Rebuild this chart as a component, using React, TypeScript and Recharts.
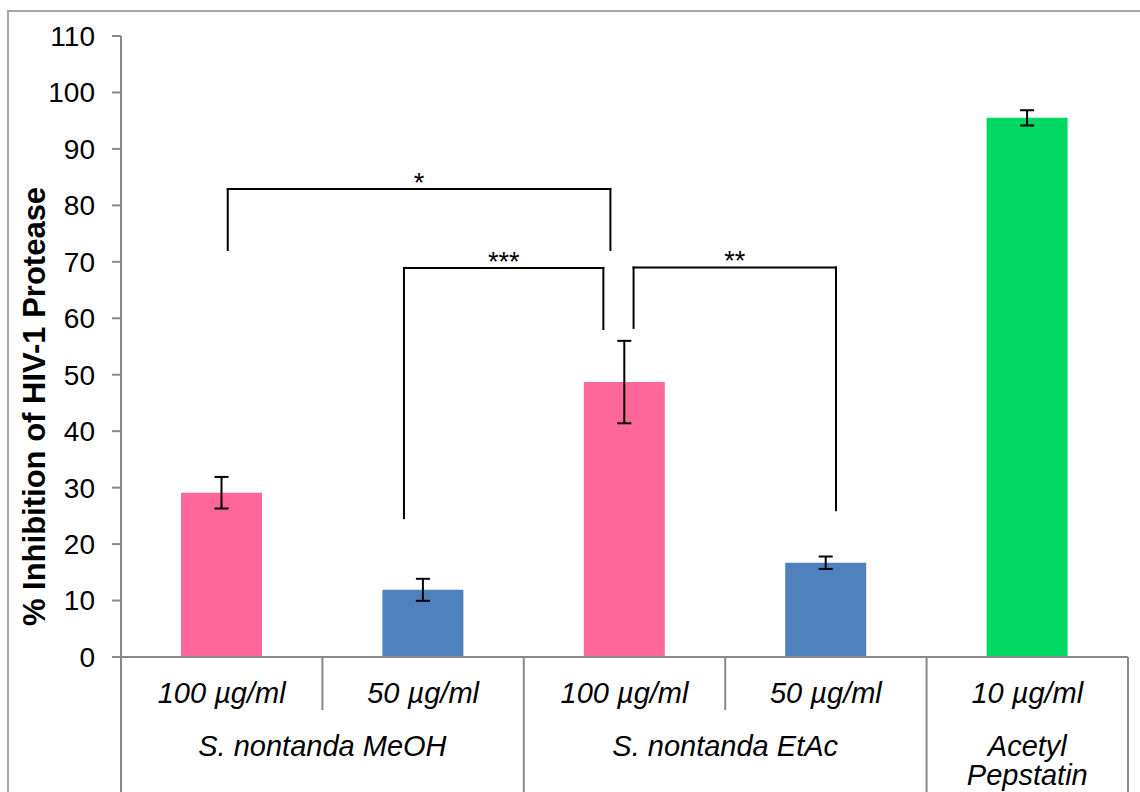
import { Bar, BarChart, Cell, ErrorBar, ReferenceLine, XAxis, YAxis } from 'recharts';

// inhibition of HIV-1 protease per extract / dose
const doseLabels = ['100 µg/ml', '50 µg/ml', '100 µg/ml', '50 µg/ml', '10 µg/ml'];
const inhibition = [29.1, 11.9, 48.7, 16.7, 95.5];
const errors = [2.8, 1.95, 7.3, 1.1, 1.35];
const barColors = ['#FF6699', '#4F81BD', '#FF6699', '#4F81BD', '#00D864'];

// second row of the category axis
const groupNames = [['S. nontanda MeOH'], ['S. nontanda EtAc'], ['Acetyl', 'Pepstatin']];
const groupSpans = [[0, 1], [2, 3], [4, 4]];

const yTicks = [0, 10, 20, 30, 40, 50, 60, 70, 80, 90, 100, 110];

// significance brackets
const bracketStars = ['*', '***', '**'];
const bracketX = [[0.03, 1.93], [0.905, 1.895], [2.045, 3.05]];
const bracketTop = [82.9, 68.9, 69.0];
const bracketFeet = [[72.1, 72.1], [24.6, 58.1], [58.3, 26.0]];

const FONT = '"Liberation Sans", Arial, sans-serif';
const AXIS = '#888888';
// how far the axis table reaches below zero, in value units
const ROW_DEPTH = -9.4;
const TABLE_DEPTH = -25;

const data = doseLabels.map((dose, i) => ({ pos: i, dose, value: inhibition[i], err: errors[i] }));
const groupCenters = groupSpans.map(([a, b]) => (a + b) / 2);
const longSeparators = Array.from(new Set(groupSpans.flatMap(([a, b]) => [a - 0.5, b + 0.5])));
const shortSeparators = groupSpans.flatMap(([a, b]) => {
  const out: number[] = [];
  for (let k = a; k < b; k++) out.push(k + 0.5);
  return out;
});

const DoseTick = (props: any) => {
  const { x, y, payload } = props;
  return (
    <text x={x} y={y + 46} textAnchor="middle" fontFamily={FONT} fontSize={29} fontStyle="italic" fill="#000">
      {doseLabels[payload.value]}
    </text>
  );
};

const GroupTick = (props: any) => {
  const { x, y, payload } = props;
  const lines = groupNames[groupCenters.indexOf(payload.value)] ?? [];
  return (
    <text x={x} y={y + 44} textAnchor="middle" fontFamily={FONT} fontSize={29} fontStyle="italic" fill="#000">
      {lines.map((line, i) => (
        <tspan key={line} x={x} dy={i === 0 ? 0 : 29}>
          {line}
        </tspan>
      ))}
    </text>
  );
};

const YTitle = (props: any) => {
  const { viewBox } = props;
  const cy = viewBox.y + viewBox.height / 2 + 60;
  return (
    <text
      transform={`translate(45, ${cy}) rotate(-90)`}
      textAnchor="middle"
      fontFamily={FONT}
      fontSize={31}
      fontWeight="bold"
      fill="#000"
    >
      % Inhibition of HIV-1 Protease
    </text>
  );
};

export default function App() {
  return (
    <div style={{ position: 'absolute', left: 0, top: 0, width: 1140, height: 792, overflow: 'hidden', background: '#fff' }}>
      <div style={{ position: 'absolute', left: 7, top: 10, width: 1200, height: 900, border: '2px solid #a6a6a6' }} />
      <div style={{ position: 'absolute', left: 0, top: 0 }}>
        <BarChart width={1140} height={792} data={data} margin={{ top: 36, right: 12, bottom: 0, left: 0 }}>
          <XAxis
            dataKey="pos"
            type="number"
            domain={[-0.5, 4.5]}
            ticks={[0, 1, 2, 3, 4]}
            interval={0}
            tick={DoseTick}
            tickLine={false}
            tickSize={0}
            tickMargin={0}
            axisLine={{ stroke: AXIS, strokeWidth: 2 }}
            height={55}
          />
          <XAxis
            xAxisId="group"
            dataKey="pos"
            type="number"
            domain={[-0.5, 4.5]}
            ticks={groupCenters}
            interval={0}
            tick={GroupTick}
            tickLine={false}
            tickSize={0}
            tickMargin={0}
            axisLine={false}
            height={80}
          />
          <YAxis
            domain={[0, 110]}
            ticks={yTicks}
            interval={0}
            width={121}
            tickSize={9}
            tickMargin={17}
            tick={{ fill: '#000', fontSize: 28, fontFamily: FONT }}
            axisLine={{ stroke: AXIS, strokeWidth: 2 }}
            tickLine={{ stroke: AXIS, strokeWidth: 2 }}
            label={YTitle}
          />
          <Bar dataKey="value" barSize={81} isAnimationActive={false}>
            {data.map((d, i) => (
              <Cell key={`cell-${i}`} fill={barColors[i]} />
            ))}
            <ErrorBar dataKey="err" width={7} stroke="#000" strokeWidth={2} isAnimationActive={false} />
          </Bar>
          {longSeparators.map((x) => (
            <ReferenceLine
              key={`long-${x}`}
              segment={[{ x, y: 0 }, { x, y: TABLE_DEPTH }]}
              ifOverflow="visible"
              stroke={AXIS}
              strokeWidth={2}
            />
          ))}
          {shortSeparators.map((x) => (
            <ReferenceLine
              key={`short-${x}`}
              segment={[{ x, y: 0 }, { x, y: ROW_DEPTH }]}
              ifOverflow="visible"
              stroke={AXIS}
              strokeWidth={2}
            />
          ))}
          {bracketStars.map((stars, i) => {
            const [x1, x2] = bracketX[i];
            const [f1, f2] = bracketFeet[i];
            const top = bracketTop[i];
            return [
              <ReferenceLine
                key={`bl-${i}`}
                segment={[{ x: x1, y: f1 }, { x: x1, y: top }]}
                stroke="#000"
                strokeWidth={2}
                strokeLinecap="square"
              />,
              <ReferenceLine
                key={`bt-${i}`}
                segment={[{ x: x1, y: top }, { x: x2, y: top }]}
                stroke="#000"
                strokeWidth={2}
                strokeLinecap="square"
                label={{ value: stars, position: 'top', offset: -3, fontSize: 27, fill: '#000', fontFamily: FONT }}
              />,
              <ReferenceLine
                key={`br-${i}`}
                segment={[{ x: x2, y: top }, { x: x2, y: f2 }]}
                stroke="#000"
                strokeWidth={2}
                strokeLinecap="square"
              />,
            ];
          })}
        </BarChart>
      </div>
    </div>
  );
}
